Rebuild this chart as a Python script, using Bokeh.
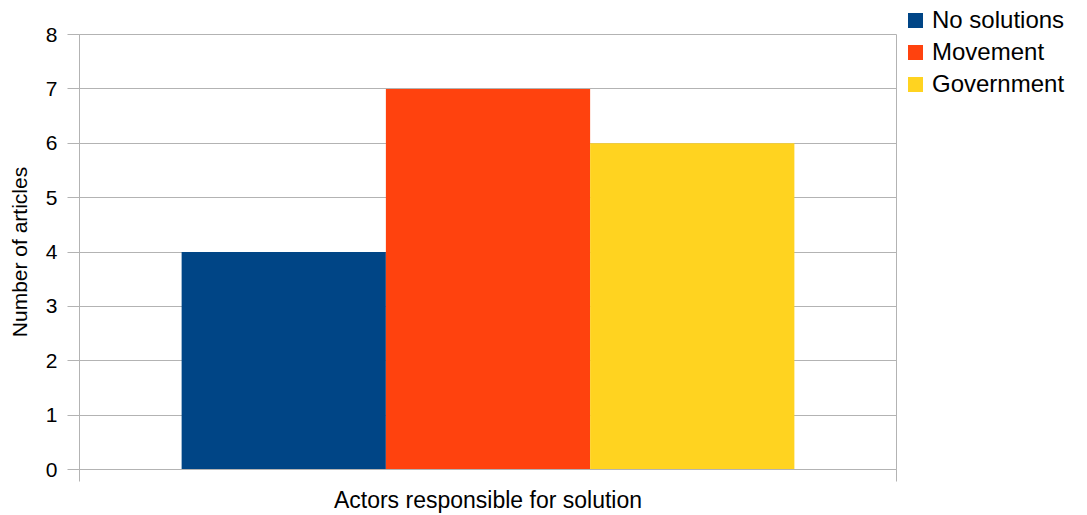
from bokeh.plotting import figure
from bokeh.layouts import row
from bokeh.models import (Range1d, FixedTicker, LinearAxis, SingleIntervalTicker,
                          ColumnDataSource, Div)
from bokeh.embed import file_html
from bokeh.resources import INLINE

group = "Actors responsible for solution"
series = ["No solutions", "Movement", "Government"]
values = [4, 7, 6]
colors = ["#004586", "#ff420e", "#ffd320"]

GRID = "#b3b3b3"
FONT = "Liberation Sans"

n = len(series)
x_range = Range1d(-1, n)

p = figure(width=898, height=515, output_backend="svg", toolbar_location=None,
           x_range=x_range, y_range=Range1d(0, 8),
           min_border_left=79, min_border_top=34, min_border_bottom=44, min_border_right=2,
           x_axis_type=None)

for i, (s, v, c) in enumerate(zip(series, values, colors)):
    src = ColumnDataSource(dict(x=[i], top=[v]))
    p.vbar(x="x", top="top", width=1, source=src, fill_color=c, line_color=None)

xaxis = LinearAxis(ticker=FixedTicker(ticks=[x_range.start, x_range.end]))
xaxis.axis_line_color = GRID
xaxis.major_tick_line_color = GRID
xaxis.major_tick_out = 12
xaxis.major_tick_in = 0
xaxis.minor_tick_line_color = None
xaxis.major_label_overrides = {x_range.start: "", x_range.end: ""}
xaxis.major_label_text_font_size = "1px"
xaxis.major_label_standoff = 0
xaxis.axis_label = group
xaxis.axis_label_text_font = FONT
xaxis.axis_label_text_font_size = "23px"
xaxis.axis_label_text_font_style = "normal"
xaxis.axis_label_text_color = "black"
xaxis.axis_label_standoff = 5
p.add_layout(xaxis, "below")

ya = p.yaxis[0]
ya.ticker = SingleIntervalTicker(interval=1)
ya.axis_line_color = GRID
ya.major_tick_line_color = GRID
ya.major_tick_out = 12
ya.major_tick_in = 0
ya.minor_tick_line_color = None
ya.major_label_text_font = FONT
ya.major_label_text_font_size = "21px"
ya.major_label_text_color = "black"
ya.major_label_standoff = 10
ya.axis_label = "Number of articles"
ya.axis_label_text_font = FONT
ya.axis_label_text_font_size = "21px"
ya.axis_label_text_font_style = "normal"
ya.axis_label_text_color = "black"
ya.axis_label_standoff = 12

p.xgrid.grid_line_color = None
p.ygrid.grid_line_color = GRID
p.ygrid.ticker = SingleIntervalTicker(interval=1)
p.outline_line_color = GRID

# legend panel to the right of the chart
rows_html = []
for i, (s, c) in enumerate(zip(series, colors)):
    top = 7 + 32 * i
    rows_html.append(
        f'<div style="position:absolute;left:10px;top:{top + 6}px;width:15px;height:15px;'
        f'background:{c};"></div>'
        f'<div style="position:absolute;left:34px;top:{top}px;height:26px;line-height:26px;'
        f'font-family:\'{FONT}\';font-size:24px;color:black;white-space:nowrap;">{s}</div>'
    )
legend_div = Div(text='<div style="position:relative;width:189px;height:515px;">'
                      + "".join(rows_html) + "</div>",
                 width=1087 - 898, height=515, margin=0)

layout = row(p, legend_div, spacing=0)
open("out.html", "w").write(file_html(layout, INLINE))
